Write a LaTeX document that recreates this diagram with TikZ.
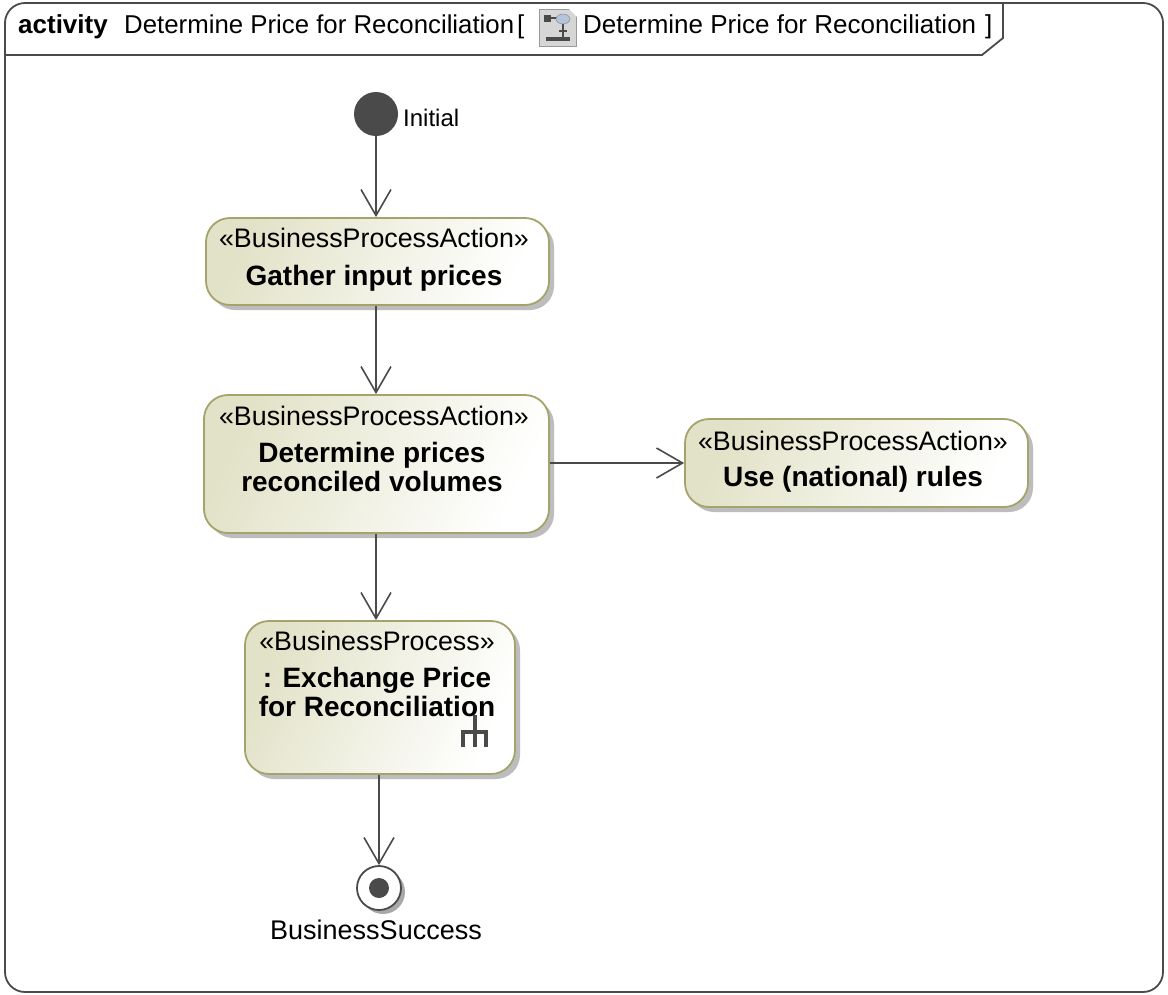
\documentclass[tikz,border=0pt]{standalone}
\usepackage{fontspec}
\setmainfont{Liberation Sans}
\usetikzlibrary{arrows.meta,shapes.geometric}
\definecolor{edgeol}{HTML}{A3A36B}
\definecolor{fillol}{HTML}{E2E2C8}
\definecolor{lineg}{HTML}{4A4A4A}
\definecolor{shadowg}{HTML}{A8A8A8}
\definecolor{iconblue}{HTML}{B4C4DC}
\tikzset{
  x=1pt,y=-1pt,
  txt/.style={font=\fontsize{26}{31}\selectfont,text=black,inner sep=0pt},
  stereo/.style={font=\fontsize{26.8}{31}\selectfont,text=black,inner sep=0pt},
  bold/.style={font=\fontsize{28}{29}\selectfont\bfseries,text=black,align=center,inner sep=0pt},
  actbox/.style={draw=edgeol,line width=1.8pt,rounded corners=24pt,inner sep=0pt,
    left color=fillol,right color=white,shading angle=65},
  shadowbox/.style={fill=shadowg,rounded corners=24pt,inner sep=0pt,opacity=.75},
  flow/.style={draw=lineg,line width=1.6pt,-{Straight Barb[length=26pt,width=30pt,line width=1.6pt]}},
  framel/.style={draw=lineg,line width=1.8pt}
}
\begin{document}
\begin{tikzpicture}
\useasboundingbox (0,0) rectangle (1168,994);
\fill[white] (0,0) rectangle (1168,994);
% frame
\draw[framel,rounded corners=20pt] (5,3) rectangle (1163,992);
\draw[framel] (5,55) -- (982,55) -- (1003,38) -- (1003,3);
% header
\node[txt,font=\fontsize{26}{31}\selectfont\bfseries,anchor=base west] (hkind) at (18,33) {activity};
\node[txt,font=\fontsize{25.8}{31}\selectfont,anchor=base west] (hname) at (124,33) {Determine Price for Reconciliation\hspace{3pt}[};
\node[draw=gray!80,line width=1.2pt,fill=black!16,minimum width=37pt,minimum height=37pt,inner sep=0pt] (hicon) at (558,28) {};
\fill[lineg] (544,15) rectangle (551,22);
\draw[lineg,line width=1.5pt] (551,18) -- (558,18);
\fill[iconblue,draw=gray] (563,19) ellipse (7pt and 5pt);
\draw[lineg,line width=1.5pt] (563,24) -- (563,37) (559,31) -- (567,31);
\fill[lineg] (546,37) rectangle (570,41);
\fill[white] (569,9) -- (577,9) -- (577,17) -- cycle;
\node[txt,anchor=base west] (hdiag) at (583,33) {Determine Price for Reconciliation};
\node[txt,anchor=base west] (hclose) at (985,33) {]};
% initial
\node[circle,fill=lineg,minimum size=44pt,inner sep=0pt] (init) at (376,114) {};
\node[txt,font=\fontsize{24}{29}\selectfont,anchor=west] (initl) at (403,118) {Initial};
% shadows
\fill[shadowbox] (211,223) rectangle (554,310);
\fill[shadowbox] (209,400) rectangle (554,538);
\fill[shadowbox] (690,424) rectangle (1033,512);
\fill[shadowbox] (250,626) rectangle (520,779);
% actions
\node[actbox,minimum width=343pt,minimum height=87pt] (a1) at (377.5,261.5) {};
\node[stereo,anchor=base] (a1s) at (374,247) {«BusinessProcessAction»};
\node[bold,anchor=base] (a1n) at (374,285) {Gather input prices};
\node[actbox,minimum width=345pt,minimum height=138pt] (a2) at (376.5,464) {};
\node[stereo,anchor=base] (a2s) at (374,425) {«BusinessProcessAction»};
\node[bold,anchor=base] (a2n) at (372,491) {Determine prices\\[0pt]reconciled volumes};
\node[actbox,minimum width=343pt,minimum height=88pt] (a3) at (856.5,463) {};
\node[stereo,anchor=base] (a3s) at (853,450) {«BusinessProcessAction»};
\node[bold,anchor=base] (a3n) at (853,486) {Use (national) rules};
\node[actbox,minimum width=270pt,minimum height=153pt] (bp) at (380,697.5) {};
\node[stereo,anchor=base] (bps) at (377,650) {«BusinessProcess»};
\node[bold,anchor=base] (bpn) at (377,716) {: Exchange Price\\[0pt]for Reconciliation};
% rake
\draw[lineg,line width=3.6pt] (475,715) -- (475,747) (463,747) -- (463,732) -- (486,732) -- (486,747);
% final
\fill[shadowg] (383,892) circle (22pt);
\node[circle,draw=lineg,fill=white,line width=1.8pt,minimum size=44pt,inner sep=0pt] (fin) at (379,888) {};
\node[circle,fill=lineg,minimum size=20pt,inner sep=0pt] (fini) at (379,888) {};
\node[txt,font=\fontsize{27}{31}\selectfont,anchor=base] (finl) at (376,939) {BusinessSuccess};
% flows
\draw[flow] (init.south) -- (init.south |- a1.north);
\draw[flow] (init.south |- a1.south) -- (init.south |- a2.north);
\draw[flow] (a2.east |- a3.west) -- (a3.west);
\draw[flow] (init.south |- a2.south) -- (init.south |- bp.north);
\draw[flow] (fin.north |- bp.south) -- (fin.north);
\end{tikzpicture}
\end{document}
